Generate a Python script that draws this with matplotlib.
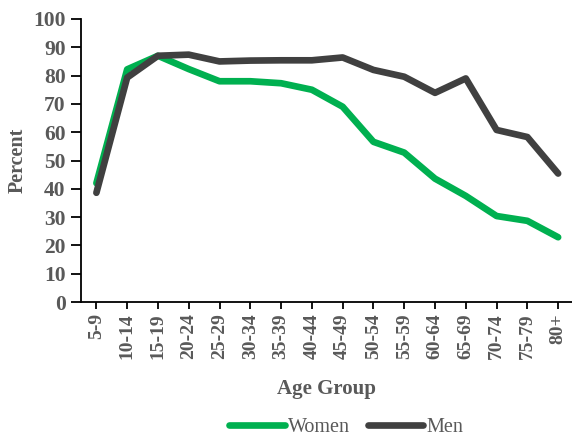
import matplotlib
matplotlib.use("Agg")
import matplotlib.pyplot as plt

age_groups = ["5-9", "10-14", "15-19", "20-24", "25-29", "30-34", "35-39", "40-44",
              "45-49", "50-54", "55-59", "60-64", "65-69", "70-74", "75-79", "80+"]
women = [42, 82.2, 87, 82.3, 78, 78, 77.3, 75, 69, 56.6, 52.8, 43.6, 37.5, 30.4, 28.7, 22.9]
men = [38.6, 79.3, 87, 87.4, 85, 85.3, 85.4, 85.4, 86.4, 82, 79.6, 73.9, 79, 60.8, 58.3, 45.4]
y_ticks = list(range(0, 101, 10))

plt.rcParams['font.family'] = ['Liberation Serif', 'DejaVu Serif']
gray = '#595959'

fig = plt.figure(figsize=(5.72, 4.41), dpi=100)
ax = fig.add_axes([0.1416, 0.315, 0.8584, 0.642])

x = list(range(len(age_groups)))
ax.plot(x, women, color='#00B050', lw=4.8, solid_capstyle='round', solid_joinstyle='round', label='Women')
ax.plot(x, men, color='#404040', lw=4.8, solid_capstyle='round', solid_joinstyle='round', label='Men')

ax.set_xlim(-0.5, 15.45)
ax.set_ylim(0, 100)
ax.set_yticks(y_ticks)
ax.set_xticks(x)
ax.set_xticklabels(age_groups, rotation=90, fontsize=14, fontweight='bold', color=gray)
ax.set_yticklabels([str(v) for v in y_ticks], fontsize=15.5, fontweight='bold', color=gray)
ax.tick_params(axis='y', direction='out', length=7, width=1.3, color='black', pad=4)
ax.tick_params(axis='x', direction='out', length=5, width=1.3, color='black', pad=3)

for s in ['top', 'right']:
    ax.spines[s].set_visible(False)
for s in ['left', 'bottom']:
    ax.spines[s].set_linewidth(1.3)
    ax.spines[s].set_color('black')

ax.set_ylabel('Percent', fontsize=14.5, fontweight='bold', color=gray, labelpad=4)
ax.set_xlabel('Age Group', fontsize=15, fontweight='bold', color=gray, labelpad=14)

fig.legend(loc='center', bbox_to_anchor=(0.605, 0.03), ncol=2, frameon=False,
           fontsize=14.5, labelcolor=gray, handlelength=2.75, handletextpad=0.15,
           columnspacing=0.9, borderpad=0.2)

fig.savefig('out.png', dpi=100)
